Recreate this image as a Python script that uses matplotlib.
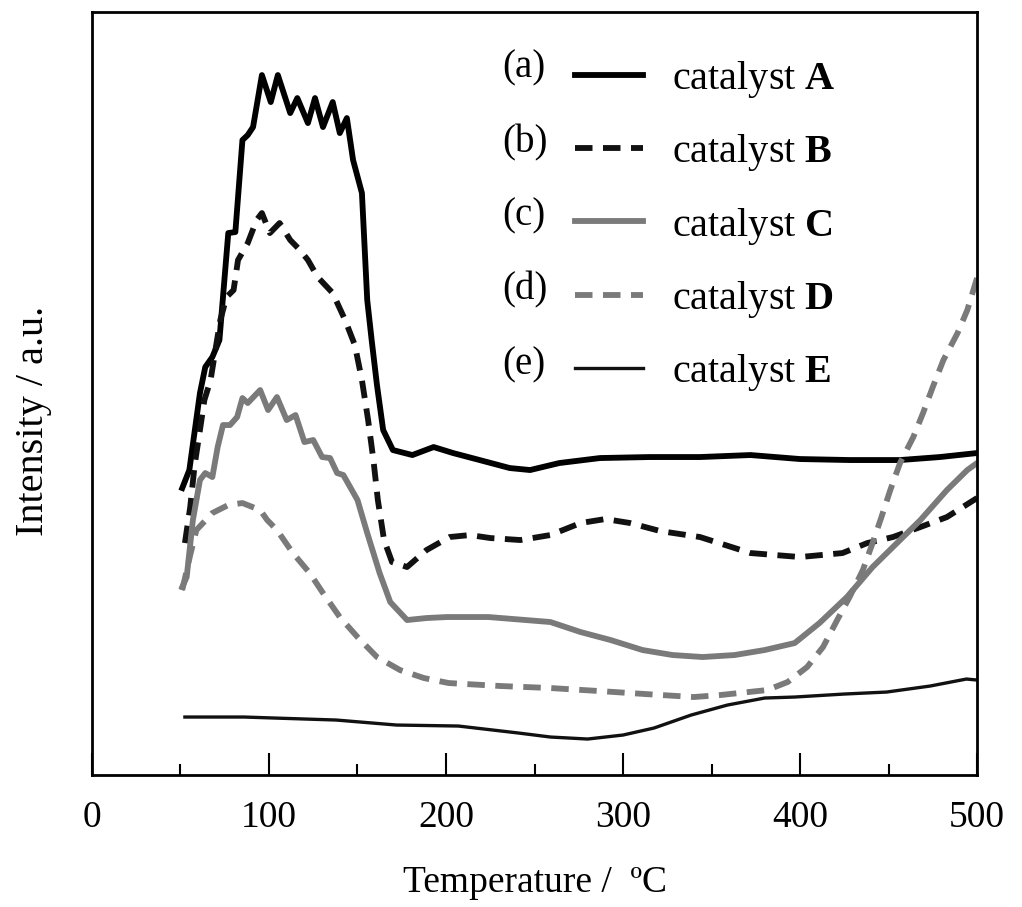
import matplotlib
matplotlib.use('Agg')
import matplotlib.pyplot as plt
from matplotlib.ticker import MultipleLocator

# TPD-like profiles (temperature in C, intensity in a.u.)
temp_a = [51, 55, 61, 64, 68, 72, 77, 81, 85, 88, 91, 96, 101, 105, 112, 116,
          122, 126, 130.5, 136, 140, 144, 147.5, 152.5, 155.5, 158, 161, 164.5,
          170, 181, 193, 204, 219, 236, 247.5, 264, 287, 315, 343.5, 372, 400,
          428, 456.5, 479, 500]
int_a = [287, 305, 382, 408, 418, 435, 542, 543, 635, 640, 648, 700, 673, 700,
         662, 677, 652, 677, 648, 673, 642, 657, 615, 582, 475, 435, 390, 345,
         325, 320, 328, 322, 315, 307, 305, 312, 317, 318, 318, 320, 316, 315,
         315, 318, 322]

temp_b = [52.5, 55.5, 58, 61, 63.5, 67, 70, 72.5, 76, 80, 82.5, 88, 93, 96,
          100.5, 106, 112, 117.5, 122, 127.5, 136, 143, 148.5, 152.5, 156, 159,
          161.5, 165, 169.5, 178, 189, 202, 213.5, 225, 242, 259, 276, 290, 304,
          321, 343.5, 372, 400, 424, 438, 452.5, 468, 483, 500]
int_b = [232, 268, 310, 345, 375, 395, 428, 455, 478, 485, 515, 532, 555, 562,
         542, 552, 535, 525, 515, 498, 482, 455, 430, 395, 355, 315, 275, 235,
         213, 208, 225, 238, 240, 237, 235, 240, 252, 256, 252, 244, 238, 222,
         218, 222, 232, 238, 248, 258, 277]

temp_c = [51, 53.5, 57, 61, 64, 68, 71, 74, 78, 82, 85, 88, 95, 99.5, 104.5,
          110, 115, 120, 125, 130, 134.5, 138.5, 142, 150, 155.5, 162.5, 168.5,
          178, 189, 200.5, 224, 259, 276, 293, 311, 328, 345, 363, 380, 397,
          411, 426.5, 441, 456.5, 468, 483, 494.5, 500]
int_c = [188, 198, 255, 295, 302, 298, 328, 350, 350, 358, 377, 372, 385, 365,
         378, 355, 360, 333, 335, 318, 317, 302, 300, 275, 242, 202, 173, 155,
         157, 158, 158, 153, 143, 135, 125, 120, 118, 120, 125, 132, 152, 178,
         208, 235, 255, 285, 305, 312]

temp_d = [51, 55.5, 59, 68, 77, 85, 95, 99, 104.5, 113.5, 123, 130.5, 140, 150,
          161, 174, 187.5, 201.5, 231, 259, 286.5, 312.5, 340, 355, 381.5, 393,
          404, 413, 421, 428, 435.5, 441, 446, 451, 456.5, 464, 469.5, 475, 481,
          489, 494.5, 500]
int_d = [185, 220, 245, 262, 270, 272, 265, 255, 245, 222, 202, 182, 158, 138,
         118, 105, 97, 92, 89, 87, 84, 81, 78, 80, 85, 93, 108, 128, 155, 178,
         205, 232, 258, 285, 312, 338, 362, 388, 415, 442, 465, 497]

temp_e = [52.5, 86, 103, 138, 172, 207, 241, 259, 280, 300, 317.5, 338.5, 359,
          380, 397, 425, 449, 473.5, 494, 500]
int_e = [58, 58, 57, 55, 50, 49, 42, 38, 36, 40, 47, 60, 70, 77, 78, 81, 83, 89,
         96, 95]

tags = ['(a)', '(b)', '(c)', '(d)', '(e)']
names = ['A', 'B', 'C', 'D', 'E']

plt.rcParams['font.family'] = 'Liberation Serif'
plt.rcParams['mathtext.fontset'] = 'custom'
plt.rcParams['mathtext.rm'] = 'Liberation Serif'
plt.rcParams['mathtext.bf'] = 'Liberation Serif:bold'

fig = plt.figure(figsize=(10.22, 9.07), dpi=100)
ax = fig.add_axes([0.090, 0.1455, 0.866, 0.8412])

black = '#000000'
gray = '#7a7a7a'
dash = (3, 1.8)

ax.plot(temp_a, int_a, color=black, lw=4.2, label='catalyst $\\mathbf{A}$')
ax.plot(temp_b, int_b, color='#111111', lw=4.2, dashes=dash,
        label='catalyst $\\mathbf{B}$')
ax.plot(temp_c, int_c, color=gray, lw=4.2, label='catalyst $\\mathbf{C}$')
ax.plot(temp_d, int_d, color=gray, lw=4.2, dashes=dash,
        label='catalyst $\\mathbf{D}$')
ax.plot(temp_e, int_e, color='#111111', lw=2.4, label='catalyst $\\mathbf{E}$')

ax.set_xlim(0, 500)
ax.set_ylim(0, 763)
ax.set_yticks([])
ax.xaxis.set_major_locator(MultipleLocator(100))
ax.xaxis.set_minor_locator(MultipleLocator(50))
ax.tick_params(axis='x', which='major', direction='in', length=16, width=1.5,
               labelsize=27, pad=18)
ax.tick_params(axis='x', which='minor', direction='in', length=8, width=1.5)
for s in ax.spines.values():
    s.set_linewidth(2)

ax.set_xlabel('Temperature /  ºC', fontsize=27, labelpad=22)
ax.set_ylabel('Intensity / a.u.', fontsize=29)
ax.yaxis.set_label_coords(-0.045, 0.464)

leg = ax.legend(loc='center left', bbox_to_anchor=(0.546, 0.7195),
                frameon=False, fontsize=29, handlelength=1.69,
                handletextpad=0.72, labelspacing=0.80, borderpad=0,
                borderaxespad=0)

tag_y = [0.9266, 0.8283, 0.7326, 0.6356, 0.5374]
for t, yy in zip(tags, tag_y):
    ax.text(0.463, yy, t, transform=ax.transAxes, fontsize=28,
            ha='left', va='center')

plt.savefig('out.png', dpi=100)
